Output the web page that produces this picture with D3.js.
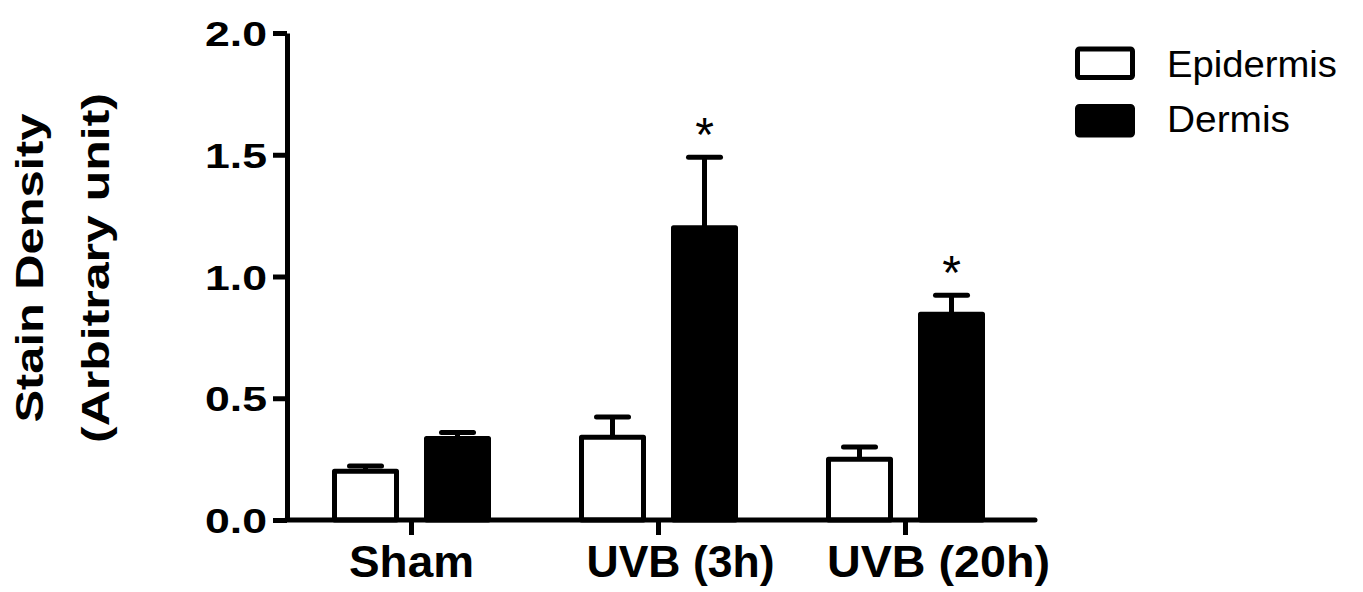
<!DOCTYPE html>
<html>
<head>
<meta charset="utf-8">
<script src="https://cdn.jsdelivr.net/npm/d3@7"></script>
<style>
  html, body { margin: 0; padding: 0; background: #fff; }
  svg { display: block; }
  text { font-family: "Liberation Sans", Arial, Helvetica, sans-serif; fill: #000; }
</style>
</head>
<body>
<svg id="chart" width="1363" height="592"></svg>
<script>
// ---- data ----
const categories = ["Sham", "UVB (3h)", "UVB (20h)"];
const seriesNames = ["Epidermis", "Dermis"];
const epidermis = [0.20, 0.34, 0.25];
const epidermisErr = [0.022, 0.083, 0.05];
const dermis = [0.335, 1.20, 0.845];
const dermisErr = [0.024, 0.29, 0.078];
const significant = [[false, false, false], [false, true, true]];
const yTicks = [0, 0.5, 1.0, 1.5, 2.0];
const yTitle = ["Stain Density", "(Arbitrary unit)"];

// ---- layout ----
const svg = d3.select("#chart");
const y = d3.scaleLinear().domain([0, 2]).range([520, 33]);
const x0 = d3.scaleBand().domain(categories).range([288, 1029]).padding(0);
const x1 = d3.scaleBand().domain(seriesNames).range([-77, 77]).paddingInner(30 / 92).paddingOuter(0);
const labelDx = [0, 22, 33];
const labelLen = [125, 188, 223];

const values = [epidermis, dermis];
const errs = [epidermisErr, dermisErr];
const fills = ["#fff", "#000"];

const rows = [];
seriesNames.forEach((s, si) => {
  categories.forEach((c, ci) => {
    rows.push({ s, si, c, ci, v: values[si][ci], e: errs[si][ci], sig: significant[si][ci] });
  });
});

const cx = d => x0(d.c) + x0.bandwidth() / 2 + x1(d.s);

// error bars (drawn first, bar tops cover base)
const eg = svg.append("g");
eg.selectAll("line.v").data(rows).join("line")
  .attr("x1", d => cx(d) + x1.bandwidth() / 2).attr("x2", d => cx(d) + x1.bandwidth() / 2)
  .attr("y1", d => y(d.v)).attr("y2", d => y(d.v + d.e))
  .attr("stroke", "#000").attr("stroke-width", 5);
eg.selectAll("line.c").data(rows).join("line")
  .attr("x1", d => cx(d) + x1.bandwidth() / 2 - 16).attr("x2", d => cx(d) + x1.bandwidth() / 2 + 16)
  .attr("y1", d => y(d.v + d.e)).attr("y2", d => y(d.v + d.e))
  .attr("stroke", "#000").attr("stroke-width", 5).attr("stroke-linecap", "round");

// bars
svg.append("g").selectAll("rect").data(rows).join("rect")
  .attr("x", d => cx(d))
  .attr("y", d => y(d.v))
  .attr("width", x1.bandwidth())
  .attr("height", d => y(0) - y(d.v))
  .attr("fill", d => fills[d.si])
  .attr("stroke", "#000")
  .attr("stroke-width", 5)
  .attr("stroke-linejoin", "round");

// asterisks
svg.append("g").selectAll("text").data(rows.filter(d => d.sig)).join("text")
  .attr("x", d => cx(d) + x1.bandwidth() / 2)
  .attr("y", d => y(d.v + d.e) - 6)
  .attr("text-anchor", "middle")
  .attr("font-size", 48)
  .text("*");

// y axis
const yAxis = svg.append("g").attr("transform", "translate(287,0)")
  .call(d3.axisLeft(y).tickValues(yTicks).tickFormat(d3.format(".1f")).tickSize(14).tickSizeOuter(0).tickPadding(6));
yAxis.select(".domain").attr("stroke-width", 5).attr("stroke", "#000");
yAxis.selectAll(".tick line").attr("stroke-width", 5).attr("stroke", "#000");
yAxis.selectAll(".tick text")
  .attr("font-family", "Liberation Sans, Arial, sans-serif")
  .attr("font-size", 35).attr("font-weight", "bold").attr("fill", "#000")
  .attr("textLength", 62).attr("lengthAdjust", "spacingAndGlyphs")
  .attr("dy", "0.36em");

// x axis
const xAxis = svg.append("g").attr("transform", "translate(0,520)")
  .call(d3.axisBottom(x0).tickSize(15).tickSizeOuter(0).tickPadding(0));
xAxis.select(".domain").remove();
xAxis.append("line")
  .attr("x1", x0.range()[0] - 2).attr("x2", x0.range()[1] + 6)
  .attr("y1", 0).attr("y2", 0)
  .attr("stroke", "#000").attr("stroke-width", 5).attr("stroke-linecap", "round");
xAxis.selectAll(".tick line").attr("stroke-width", 5).attr("stroke", "#000");
xAxis.selectAll(".tick text")
  .attr("font-family", "Liberation Sans, Arial, sans-serif")
  .attr("font-size", 44).attr("font-weight", "bold").attr("fill", "#000")
  .attr("y", 57).attr("dy", 0)
  .attr("x", (d, i) => labelDx[i])
  .attr("textLength", (d, i) => labelLen[i]).attr("lengthAdjust", "spacingAndGlyphs");

// y title
const tg = svg.append("g").attr("transform", "translate(0,268) rotate(-90)");
tg.selectAll("text").data(yTitle).join("text")
  .attr("x", 0)
  .attr("y", (d, i) => [43, 109][i])
  .attr("text-anchor", "middle")
  .attr("font-size", 39).attr("font-weight", "bold")
  .attr("textLength", (d, i) => [309, 350][i]).attr("lengthAdjust", "spacingAndGlyphs")
  .text(d => d);

// legend
const lg = svg.append("g");
const legY = [49, 106.5];
lg.selectAll("rect").data(seriesNames).join("rect")
  .attr("x", 1077.5).attr("y", (d, i) => legY[i])
  .attr("width", 55).attr("height", 28.5)
  .attr("rx", 2)
  .attr("fill", (d, i) => fills[i]).attr("stroke", "#000").attr("stroke-width", 5);
lg.selectAll("text").data(seriesNames).join("text")
  .attr("x", 1167).attr("y", (d, i) => [77, 132][i])
  .attr("font-size", 36)
  .attr("textLength", (d, i) => [170, 123][i]).attr("lengthAdjust", "spacingAndGlyphs")
  .text(d => d);
</script>
</body>
</html>
